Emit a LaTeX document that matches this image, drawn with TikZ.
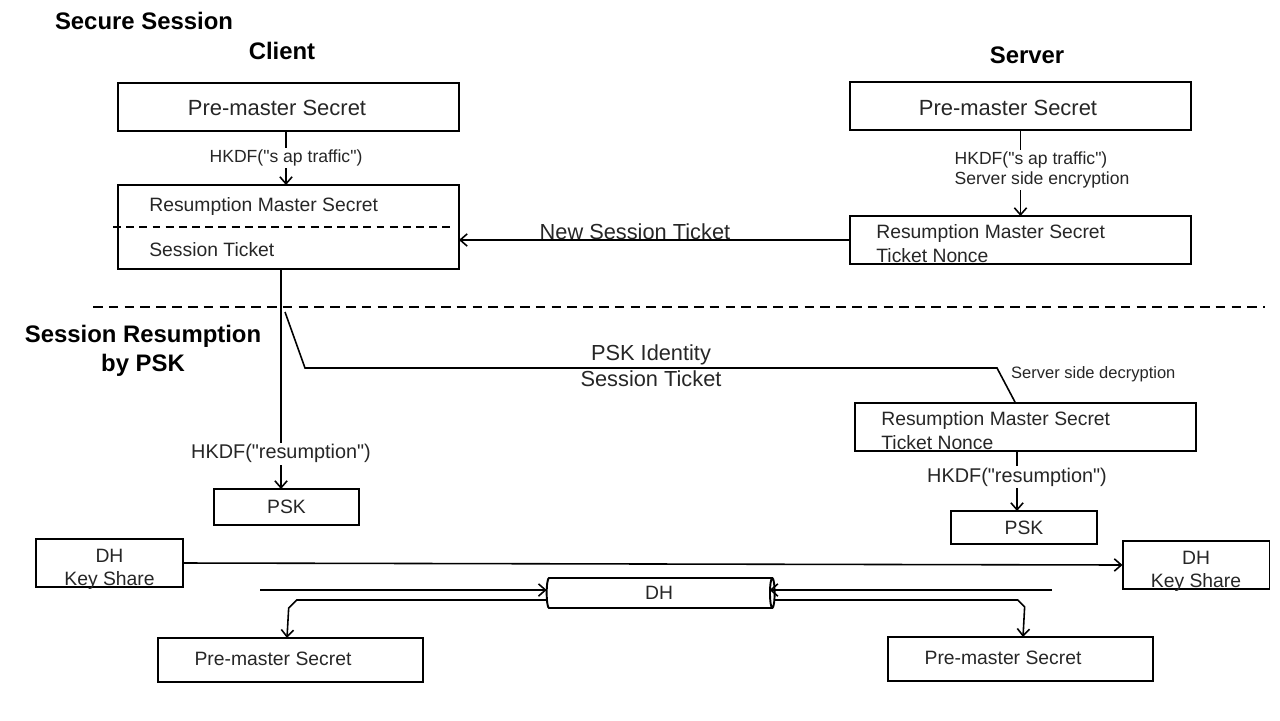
\documentclass[tikz,border=0pt]{standalone}
\usepackage{fontspec}
\setmainfont{Liberation Sans}[Ligatures=TeXOff]
\usetikzlibrary{arrows.meta,shapes.geometric}

\begin{document}
\begin{tikzpicture}[x=0.02cm,y=-0.02cm,
  caja/.style={draw,line width=1.1pt,inner sep=0pt,outer sep=0pt,
    text=black!85,font=\fontsize{11}{13.5}\selectfont},
  flecha/.style={line width=0.9pt,-{Straight Barb[length=4pt,width=7pt]}},
  linea/.style={line width=0.9pt},
  titulo/.style={font=\fontsize{13.6}{16.5}\selectfont\bfseries},
  texto/.style={font=\fontsize{11}{13}\selectfont,text=black!85,inner sep=0pt,anchor=west},
  grande/.style={font=\fontsize{12.5}{15}\selectfont,text=black!85,inner sep=0pt},
  rotulo/.style={font=\fontsize{10}{11.4}\selectfont,text=black!85,fill=white,inner sep=1pt},
  mensaje/.style={font=\fontsize{12.4}{15}\selectfont,text=black!85,inner sep=1pt}]
  \useasboundingbox (0,0) rectangle (1280,720);

  % Títulos
  \node[titulo] (tsecure) at (144,21) {Secure Session};
  \node[titulo] (tclient) at (282,51) {Client};
  \node[titulo] (tserver) at (1027,55) {Server};
  \node[titulo,align=center] (tresum) at (143,351) {Session Resumption\\by PSK};

  % Cajas del cliente
  \node[caja,minimum width=68.2mm,minimum height=9.6mm] (cpm) at (288.5,107) {};
  \node[grande] (cpmt) at (277,108) {Pre-master Secret};
  \node[caja,minimum width=68.2mm,minimum height=16.8mm] (crms) at (288.5,227) {};
  \node[texto] (crmsa) at (149,206) {Resumption Master Secret};
  \node[texto] (crmsb) at (149,250) {Session Ticket};
  \draw[line width=0.9pt,dash pattern=on 4.5pt off 3pt] ([xshift=-1mm]crms.west) -- ([xshift=-0.8mm]crms.east);
  \node[caja,minimum width=29mm,minimum height=7.2mm] (cpsk) at (286.5,507) {PSK};
  \node[caja,minimum width=29.4mm,minimum height=9.6mm] (cdh) at (109.5,563) {};
  \node[texto,anchor=center,align=center] (cdht) at ([yshift=-1.3mm]cdh.center) {DH\\Key Share};
  \node[caja,minimum width=53mm,minimum height=8.8mm] (cpm2) at (290.5,660) {};
  \node[texto,anchor=center] (cpm2t) at (273,659) {Pre-master Secret};

  % Cajas del servidor
  \node[caja,minimum width=68.2mm,minimum height=9.6mm] (spm) at (1020.5,106) {};
  \node[grande] (spmt) at (1008,108) {Pre-master Secret};
  \node[caja,minimum width=68.2mm,minimum height=9.6mm] (srms) at (1020.5,240) {};
  \node[texto] (srmsa) at (876,233) {Resumption Master Secret};
  \node[texto] (srmsb) at (876,256) {Ticket Nonce};
  \node[caja,minimum width=68.2mm,minimum height=9.6mm] (srms2) at (1025.5,427) {};
  \node[texto] (srms2a) at (881,420) {Resumption Master Secret};
  \node[texto] (srms2b) at (881,443) {Ticket Nonce};
  \node[caja,minimum width=29.2mm,minimum height=6.6mm] (spsk) at (1024,527.5) {PSK};
  \node[caja,minimum width=29.4mm,minimum height=9.6mm] (sdh) at (1196,565) {};
  \node[texto,anchor=center,align=center] (sdht) at ([yshift=-1.3mm]sdh.center) {DH\\Key Share};
  \node[caja,minimum width=53mm,minimum height=8.8mm] (spm2) at (1020.5,659) {};
  \node[texto,anchor=center] (spm2t) at (1003,658) {Pre-master Secret};

  % Cilindro DH
  \node[cylinder,draw,line width=1.1pt,inner sep=0pt,outer sep=0pt,shape aspect=0.35,
    minimum width=6mm,minimum height=45.6mm,text=black!85,font=\fontsize{11}{13}\selectfont] (dh) at (659,593) {DH};

  % Sesión segura
  \draw[flecha] ([xshift=-0.5mm]cpm.south) -- node[rotulo,midway] (hkdfc) {HKDF("s ap traffic")} ([xshift=-0.5mm]crms.north);
  \draw[flecha] (spm.south) -- (srms.north);
  \node[rotulo,align=left] (hkdfs) at (1042,170) {HKDF("s ap traffic")\\Server side encryption};
  \draw[flecha] (srms.west) -- node[mensaje,pos=0.55,above,inner sep=0pt] (nst) {New Session Ticket} (srms.west -| crms.east);

  % Separación
  \draw[line width=0.9pt,dash pattern=on 5.5pt off 3.5pt] (93,307) -- (1265,307);

  % Reanudación por PSK
  \draw[flecha] ([xshift=-1.5mm]crms.south) -- node[rotulo,pos=0.84,font=\fontsize{11.3}{13}\selectfont] (hkdfr) {HKDF("resumption")} ([xshift=-1.1mm]cpsk.north);
  \coordinate (pskini) at (285,312);
  \draw[linea] (pskini) -- ++(20,56)
    -- node[mensaje,midway,above] (pskid) {PSK Identity} node[mensaje,midway,below] (pskst) {Session Ticket} ++(692,0)
    -- ([xshift=-2mm]srms2.north);
  \node[rotulo,anchor=west,fill=none,font=\fontsize{9.4}{11}\selectfont] (ssd) at (1009,374) {Server side decryption};
  \draw[flecha] ([xshift=-1.7mm]srms2.south) -- node[rotulo,pos=0.44,font=\fontsize{11.3}{13}\selectfont] (hkdfr2) {HKDF("resumption")} ([xshift=-1.4mm]spsk.north);

  % Intercambio DH
  \draw[flecha] (cdh.east) -- (sdh.west);
  \coordinate (dhinl) at (260,590);
  \coordinate (dhinr) at (1052,590);
  \draw[flecha] (dhinl) -- (dhinl -| dh.west);
  \draw[flecha] (dhinr) -- ([xshift=-1mm]dhinr -| dh.east);
  \draw[flecha] ([yshift=-1.4mm]dh.west) -- ++(-250,0) -- ++(-8,8) -- ([xshift=-0.7mm]cpm2.north);
  \draw[flecha] ([yshift=-1.4mm]dh.east) -- ++(243,0) -- ++(7,7) -- ([xshift=0.5mm]spm2.north);
\end{tikzpicture}
\end{document}
